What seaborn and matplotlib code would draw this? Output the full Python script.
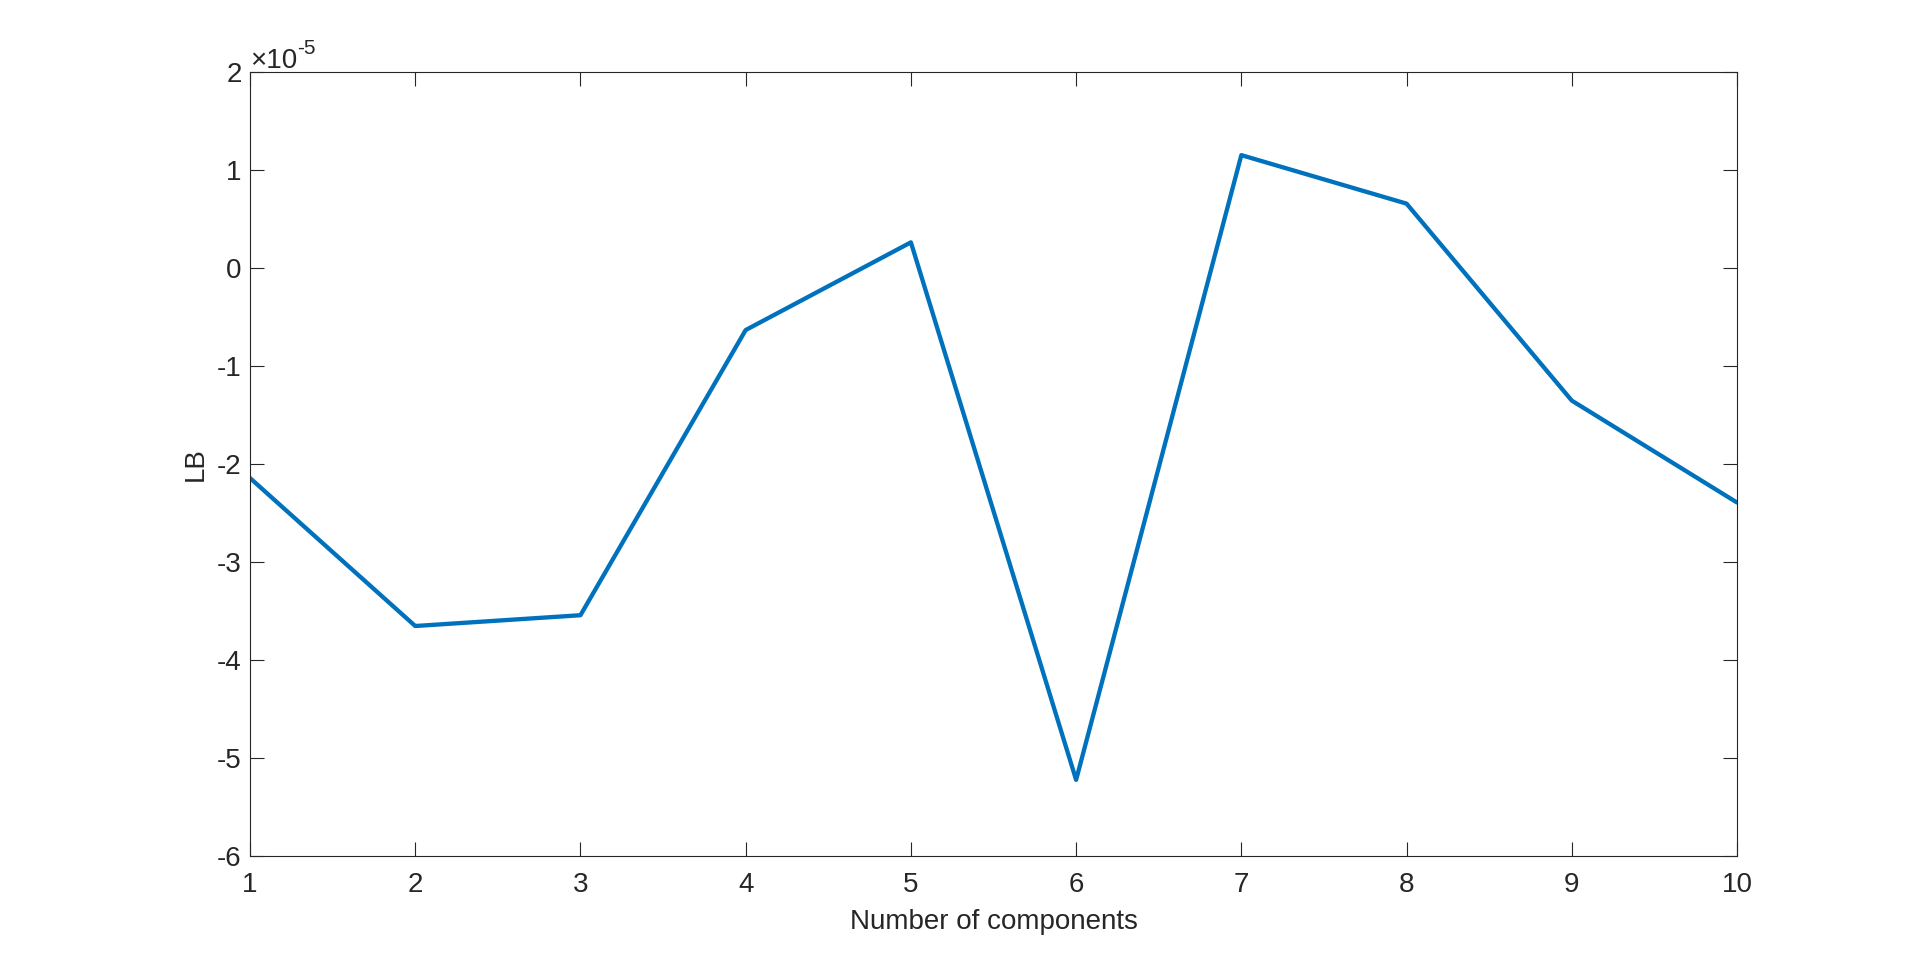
import numpy as np
import pandas as pd
import matplotlib
matplotlib.use("Agg")
import matplotlib.pyplot as plt
import seaborn as sns
from matplotlib.ticker import FuncFormatter

# data
n_components = [1, 2, 3, 4, 5, 6, 7, 8, 9, 10]
lb = [-2.14e-5, -3.65e-5, -3.54e-5, -0.63e-5, 0.265e-5,
      -5.22e-5, 1.155e-5, 0.66e-5, -1.35e-5, -2.39e-5]
y_ticks = [-6, -5, -4, -3, -2, -1, 0, 1, 2]
exponent = -5

sns.set_style("ticks")
plt.rcParams["font.family"] = ["Liberation Sans", "DejaVu Sans"]
plt.rcParams["axes.unicode_minus"] = False

df = pd.DataFrame({"n": n_components, "lb": lb})

fig = plt.figure(figsize=(19.2, 9.63), dpi=100)
ax = fig.add_axes([0.1302, 0.1108, 0.7745, 0.8141])

sns.lineplot(
    data=df,
    x="n",
    y="lb",
    color="#0072BD",
    linewidth=3.1,
    ax=ax,
)

scale = 10.0 ** exponent
ax.set_xlim(1, 10)
ax.set_ylim(min(y_ticks) * scale, max(y_ticks) * scale)
ax.set_xticks(n_components)
ax.set_yticks(np.array(y_ticks) * scale)
ax.yaxis.set_major_formatter(FuncFormatter(lambda v, p: "%g" % round(v / scale, 6)))

ax.tick_params(
    axis="both",
    direction="in",
    length=10,
    width=0.8,
    colors="#262626",
    labelsize=20,
    top=True,
    right=True,
)
ax.tick_params(axis="x", pad=11)
ax.tick_params(axis="y", pad=6)

for side in ["top", "right", "bottom", "left"]:
    ax.spines[side].set_visible(True)
    ax.spines[side].set_color("#262626")
    ax.spines[side].set_linewidth(0.8)

ax.set_xlabel("Number of components", fontsize=20, color="#262626", labelpad=8)
ax.set_ylabel("LB", fontsize=20, color="#262626", labelpad=6)

# MATLAB-style exponent label above the y axis
base = ax.text(0.0, 0.998, "\u00d710", transform=ax.transAxes,
               ha="left", va="bottom", fontsize=20, color="#262626")
ax.annotate(str(exponent), xy=(1.0, 0.62), xycoords=base,
            ha="left", va="bottom", fontsize=15, color="#262626")

fig.savefig("out.png", dpi=100, facecolor="white")
